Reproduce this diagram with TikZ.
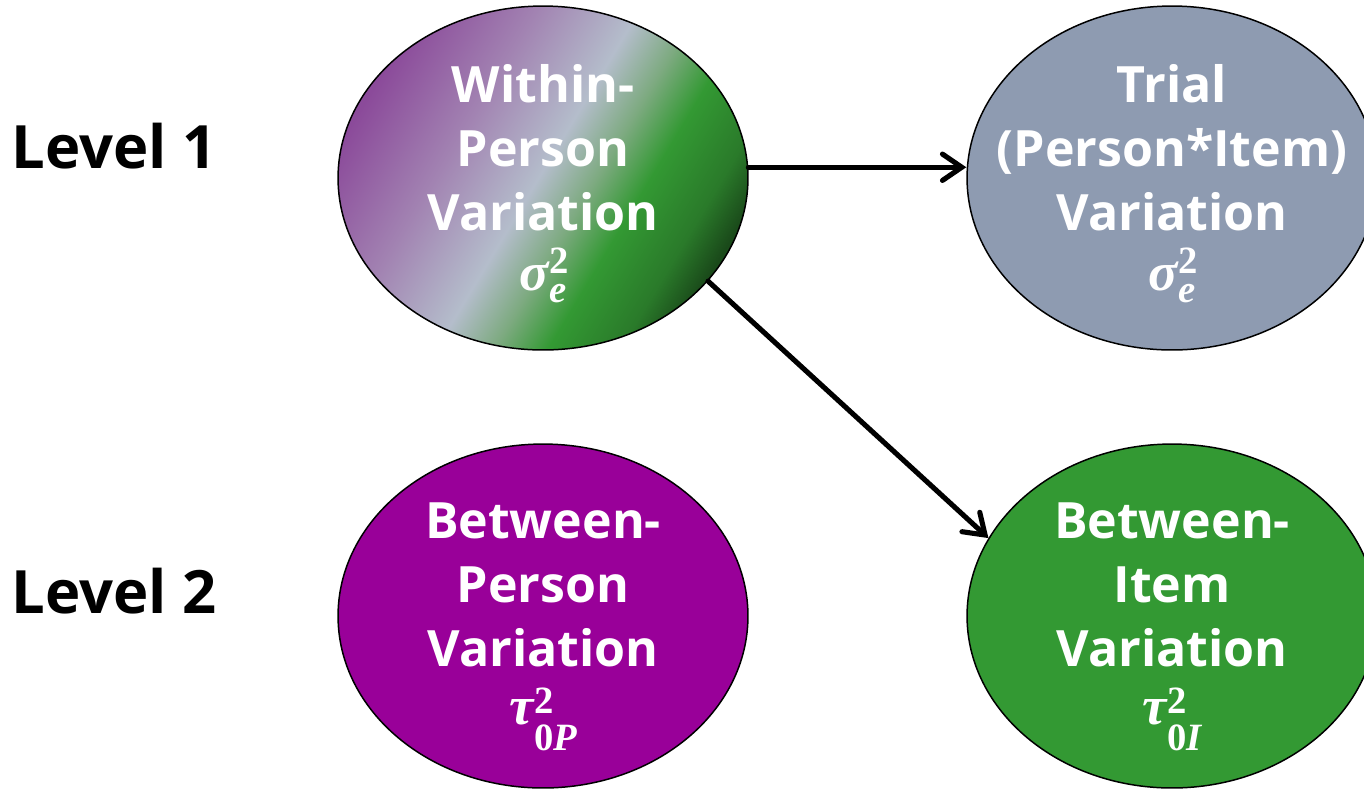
\documentclass[tikz,border=0pt]{standalone}
\usepackage{fontspec}
\setmainfont{Open Sans}
\newfontfamily\mf{Liberation Serif}
\usetikzlibrary{shapes.geometric,arrows.meta}
\definecolor{trialFill}{HTML}{8E9BB1}
\definecolor{bpFill}{HTML}{990099}
\definecolor{biFill}{HTML}{339933}
\definecolor{wpA}{HTML}{8B4A9A}
\definecolor{wpB}{HTML}{A283B2}
\definecolor{wpL}{HTML}{B4BDCB}
\definecolor{wpC}{HTML}{7DAA80}
\definecolor{wpG}{HTML}{339933}
\definecolor{wpD}{HTML}{2A7A2A}
\definecolor{wpE}{HTML}{1A4A1A}
\pgfdeclarehorizontalshading{withinshade}{100bp}{color(0bp)=(wpA); color(25bp)=(wpA); color(38bp)=(wpB); color(49.5bp)=(wpL); color(56bp)=(wpC); color(62bp)=(wpG); color(70bp)=(wpD); color(75bp)=(wpE); color(100bp)=(wpE)}
% \varsym{sup raise}{sub lower}{base}{sup}{sub}
\newcommand\varsym[5]{{\fontsize{31}{36}\selectfont\mf\bfseries\itshape #3}\kern0.5pt\rlap{\raisebox{#1}[0pt][0pt]{\fontsize{22}{22}\selectfont\mf\bfseries #4}}\raisebox{-#2}[0pt][0pt]{\fontsize{22}{22}\selectfont\mf\bfseries #5}}
\begin{document}
\begin{tikzpicture}[x=0.02cm,y=-0.02cm,
  ell/.style={ellipse, draw=black, line width=0.85pt, minimum width=8.2cm, minimum height=6.88cm, inner sep=0pt},
  lab/.style={text=white, font=\fontsize{28.5}{36.3}\selectfont\bfseries, align=center, inner sep=0pt},
  lvl/.style={text=black, font=\fontsize{34}{40}\selectfont\bfseries, anchor=base west, inner sep=0pt},
  arr/.style={line width=2.9pt, line cap=round, -{Straight Barb[length=11pt,width=15pt,line cap=round]}}]
\useasboundingbox (0,0) rectangle (1364,789);
\clip (0,0) rectangle (1364,789);
\node[ell, shade, shading=withinshade, shading angle=-31] (wp) at (543,178) {};
\node[ell, fill=trialFill] (ti) at (1172,178) {};
\node[ell, fill=bpFill] (bp) at (543,616) {};
\node[ell, fill=biFill] (bi) at (1172,616) {};
\node[lab] (wpt) at (543,178) {Within-\\Person\\Variation\\[-2pt]\varsym{9.5pt}{7pt}{σ}{2}{\itshape e}};
\node[lab] (tit) at (1172,178) {Trial\\(Person*Item)\\Variation\\[-2pt]\varsym{9.5pt}{7pt}{σ}{2}{\itshape e}};
\node[lab] (bpt) at (543,614) {Between-\\Person\\Variation\\[-3pt]\varsym{6.5pt}{14.5pt}{τ}{2}{0\itshape P}};
\node[lab] (bit) at (1172,614) {Between-\\Item\\Variation\\[-3pt]\varsym{6.5pt}{14.5pt}{τ}{2}{0\itshape I}};
\node[lvl] (l1) at (11,168) {Level 1};
\node[lvl] (l2) at (11,613) {Level 2};
\draw[arr] (wp.3) -- (ti.west |- wp.3);
\draw[arr] (wp.-32) -- (bi.157);
\end{tikzpicture}
\end{document}
